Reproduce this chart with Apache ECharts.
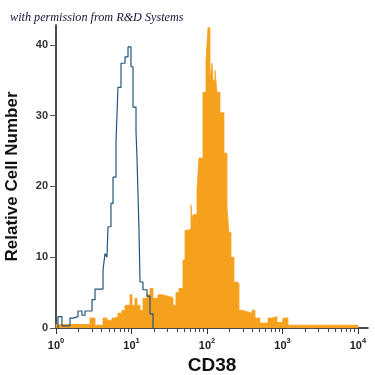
<!DOCTYPE html>
<html><head><meta charset="utf-8">
<script src="https://cdn.jsdelivr.net/npm/echarts@6/dist/echarts.min.js"></script>
<style>html,body{margin:0;padding:0;background:#fff}#c{width:375px;height:375px}</style>
</head><body><div id="c"></div>
<script>
// log10(CD38 intensity) bin starts and relative cell counts
const cd38BinStart = [0.000,0.450,0.517,0.623,0.675,0.742,0.781,0.821,0.874,0.914,0.980,1.007,1.046,1.073,1.113,1.152,1.205,1.245,1.285,1.351,1.404,1.483,1.550,1.589,1.629,1.682,1.709,1.748,1.788,1.801,1.815,1.868,1.894,1.947,1.987,2.013,2.040,2.066,2.079,2.106,2.132,2.172,2.225,2.265,2.291,2.318,2.358,2.397,2.424,2.464,2.530,2.596,2.636,2.702,2.808,2.861,2.927,2.993,3.007,3.073];
const cd38Counts   = [0.5,1.4,0.4,1.4,1.1,1.4,1.6,2.1,2.5,3.2,4.7,3.2,4.2,3.2,2.5,4.2,4.7,5.6,4.2,4.7,4.5,4.3,3.2,5.0,5.6,9.6,13.8,14.0,17.4,15.3,16.0,19.5,24.0,33.3,37.8,42.4,35.0,37.4,35.0,36.4,33.3,30.4,24.7,17.0,13.5,10.0,6.5,6.3,2.5,2.3,2.1,2.5,1.4,0.7,1.4,1.6,0.8,0.4,1.4,0.4];
const cd38End = 4.0;

const isoBinStart = [0.026,0.079,0.185,0.225,0.291,0.344,0.384,0.477,0.517,0.623,0.649,0.675,0.689,0.728,0.755,0.795,0.821,0.861,0.914,0.954,0.993,1.020,1.060,1.073,1.099,1.113,1.152,1.205,1.245];
const isoCounts   = [1.6,0.3,1.4,1.6,2.4,1.8,2.4,4.0,5.5,8.2,10.5,10.0,14.3,17.6,21.3,26.3,34.0,37.4,38.3,39.7,36.9,31.2,27.7,24.0,14.0,6.5,5.4,4.5,2.0];
const isoEnd = 1.285;

const xExponents = [0,1,2,3,4];
const yTicks = [0,10,20,30,40];

function stepData(starts, counts, end){
  const d = [[starts[0],0]];
  for(let i=0;i<starts.length;i++) d.push([starts[i],counts[i]]);
  d.push([end,0]);
  return d;
}
const minorTicks = [];
for (let d=0; d<4; d++) for (let k=2;k<=9;k++) minorTicks.push(d+Math.log10(k));

const chart = echarts.init(document.getElementById('c'));
chart.setOption({
  animation:false,
  title:{text:'with permission from R&D Systems',left:5,top:7,
    textStyle:{fontFamily:'Liberation Serif',fontStyle:'italic',fontWeight:'normal',fontSize:12.2,color:'#141438'}},
  grid:{left:56,right:7,top:25,bottom:47,outerBoundsMode:'none',containLabel:false},
  xAxis:[{
    type:'value',min:0,max:4.133,
    axisLine:{lineStyle:{color:'#111',width:1.5}},
    axisTick:{customValues:xExponents,length:6,lineStyle:{color:'#333'}},
    splitLine:{show:false},
    axisLabel:{customValues:xExponents,margin:9,
      formatter:v=>'{b|10}{s|'+v+'}',
      rich:{b:{fontFamily:'Liberation Sans',fontSize:11,fontWeight:'bold',color:'#222',lineHeight:14,verticalAlign:'bottom'},
            s:{fontFamily:'Liberation Sans',fontSize:7.5,fontWeight:'bold',color:'#222',lineHeight:14,verticalAlign:'top',padding:[0,0,6,0]}}},
    name:'CD38',nameLocation:'middle',nameGap:23,
    nameTextStyle:{fontFamily:'Liberation Sans',fontWeight:'bold',fontSize:19,color:'#111'}
  },{
    type:'value',min:0,max:4.133,position:'bottom',
    axisLine:{show:false},
    axisTick:{customValues:minorTicks,length:4,lineStyle:{color:'#444'}},
    axisLabel:{show:false},splitLine:{show:false}
  }],
  yAxis:{
    type:'value',min:0,max:42.8,
    axisLine:{show:true,lineStyle:{color:'#111',width:1.5}},
    axisTick:{show:true,customValues:yTicks,length:6,lineStyle:{color:'#555'}},
    axisLabel:{customValues:yTicks,margin:8,fontFamily:'Liberation Sans',fontWeight:'bold',fontSize:11,color:'#333'},
    splitLine:{show:false},
    name:'Relative Cell Number',nameLocation:'middle',nameGap:35,
    nameTextStyle:{fontFamily:'Liberation Sans',fontWeight:'bold',fontSize:17,color:'#111'}
  },
  series:[
    {type:'line',step:'end',symbol:'none',data:stepData(cd38BinStart,cd38Counts,cd38End),
     lineStyle:{color:'#f6a11e',width:0.8},areaStyle:{color:'#f6a11e',opacity:1},z:2},
    {type:'line',step:'end',symbol:'none',data:stepData(isoBinStart,isoCounts,isoEnd),
     lineStyle:{color:'#22557a',width:1.2},z:3}
  ]
});
</script></body></html>
